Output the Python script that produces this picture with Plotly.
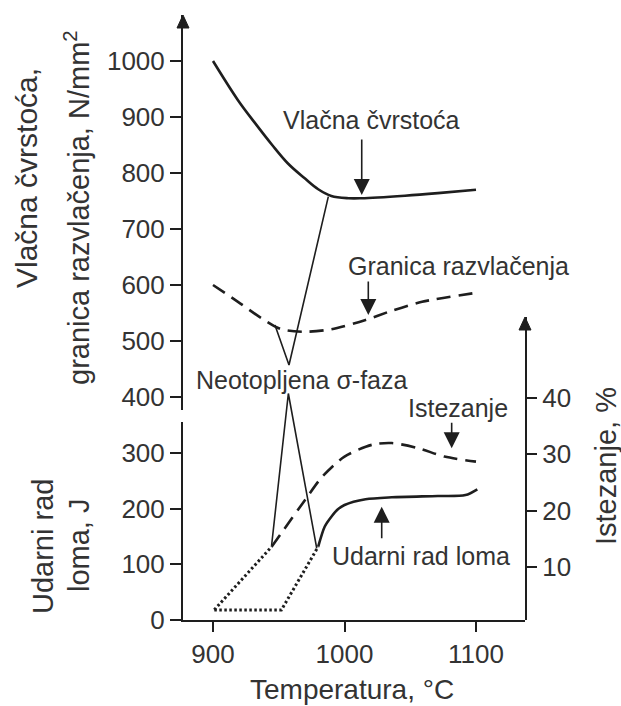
import plotly.graph_objects as go

# ---------------- data ----------------
# Vlačna čvrstoća (N/mm²)
vc_x = [900, 919, 932, 945, 957, 970, 980, 990, 1003, 1013, 1046, 1071, 1100]
vc_y = [1000, 930, 889, 850, 817, 790, 771, 759, 755, 755, 759.5, 764, 770]

# Granica razvlačenja (N/mm²)
gr_x = [900, 919, 937, 952, 970, 990, 1016, 1036, 1059, 1100]
gr_y = [600, 570, 540.5, 521, 516.5, 521, 537.5, 554, 570, 586]

# Istezanje (%)
ist_dot_x = [901, 944.6]
ist_dot_y = [2.4, 13.6]
ist_x = [944.6, 970, 983, 1000, 1021, 1036, 1056, 1076, 1100]
ist_y = [13.6, 21.9, 26.0, 29.6, 31.7, 32.0, 31.1, 29.6, 28.7]

# Udarni rad loma (J)
ur_dot_x = [901, 952, 980]
ur_dot_y = [18, 18, 131.7]
ur_x = [980, 985, 990, 995, 1000, 1016, 1036, 1071, 1092, 1101]
ur_y = [131.7, 168, 185.6, 199, 206.6, 216.8, 220.4, 222.7, 224.5, 234.8]

# Neotopljena σ-faza pointer lines
sig_top_x = [947.1, 957.8, 987.7]
sig_top_y = [528.6, 457.1, 757.7]      # N/mm²
sig_bot_x = [944.6, 957.3, 978.9]
sig_bot_y = [13.9, 40.8, 13.3]         # %

x_ticks = [900, 1000, 1100]
top_ticks = [400, 500, 600, 700, 800, 900, 1000]
bot_ticks = [0, 100, 200, 300]
right_ticks = [10, 20, 30, 40]

# ---------------- styling ----------------
LINE = "#1e1e1e"
TXT = "#333333"
FONT = "Liberation Sans, Arial, sans-serif"
W, H = 621, 706
L, R, T, B = 183, 96, 15, 86
PW, PH = W - L - R, H - T - B


def P(px, py):
    return (px - L) / PW, (H - B - py) / PH


fig = go.Figure()

fig.add_trace(go.Scatter(x=vc_x, y=vc_y, xaxis="x", yaxis="y2", mode="lines",
                         line=dict(color=LINE, width=2.6, shape="spline", smoothing=1.0)))
fig.add_trace(go.Scatter(x=gr_x, y=gr_y, xaxis="x", yaxis="y2", mode="lines",
                         line=dict(color=LINE, width=2.6, dash="14px,8px", shape="spline", smoothing=0.8)))
fig.add_trace(go.Scatter(x=sig_top_x, y=sig_top_y, xaxis="x", yaxis="y2", mode="lines",
                         line=dict(color=LINE, width=1.6)))

fig.add_trace(go.Scatter(x=ist_dot_x, y=ist_dot_y, xaxis="x", yaxis="y3", mode="lines",
                         line=dict(color=LINE, width=3, dash="2.5px,2.5px")))
fig.add_trace(go.Scatter(x=ist_x, y=ist_y, xaxis="x", yaxis="y3", mode="lines",
                         line=dict(color=LINE, width=2.6, dash="14px,8px", shape="spline", smoothing=0.8)))
fig.add_trace(go.Scatter(x=sig_bot_x, y=sig_bot_y, xaxis="x", yaxis="y3", mode="lines",
                         line=dict(color=LINE, width=1.6)))

fig.add_trace(go.Scatter(x=ur_dot_x, y=ur_dot_y, xaxis="x", yaxis="y", mode="lines",
                         line=dict(color=LINE, width=3, dash="2.5px,2.5px")))
fig.add_trace(go.Scatter(x=ur_x, y=ur_y, xaxis="x", yaxis="y", mode="lines",
                         line=dict(color=LINE, width=2.6, shape="spline", smoothing=0.8)))

tickfont = dict(family=FONT, size=26, color=TXT)
axis_common = dict(showline=True, linecolor=LINE, linewidth=2, ticks="outside",
                   tickcolor=LINE, tickwidth=2, showgrid=False, zeroline=False,
                   tickfont=tickfont)

fig.update_layout(
    width=W, height=H,
    margin=dict(l=L, r=R, t=T, b=B),
    paper_bgcolor="white", plot_bgcolor="rgba(0,0,0,0)",
    showlegend=False,
    xaxis=dict(domain=[0, 1], range=[877.19, 1137.26], tickvals=x_ticks, ticklen=10,
               anchor="y", **axis_common),
    yaxis=dict(domain=[0, 198 / PH], range=[0, 198 / 0.5567], tickvals=bot_ticks,
               ticklen=11, anchor="x", **axis_common),
    yaxis2=dict(domain=[210 / PH, 1], range=[400 - 13 / 0.56, 1000 + 46 / 0.56],
                tickvals=top_ticks, ticklen=11, anchor="x", **axis_common),
    yaxis3=dict(domain=[0, 303 / PH], range=[0.59, 0.59 + 303 / 5.633],
                tickvals=right_ticks, ticklen=10, anchor="x", side="right", **axis_common),
)

ann = []


def text_ann(txt, px, py, size=25, angle=0):
    x, y = P(px, py)
    ann.append(dict(text=txt, x=x, y=y, xref="paper", yref="paper", showarrow=False,
                    xanchor="center", yanchor="middle", textangle=angle,
                    font=dict(family=FONT, size=size, color=TXT)))


# curve labels
text_ann("Vlačna čvrstoća", 371, 120)
text_ann("Granica razvlačenja", 458, 266)
text_ann("Neotopljena σ-faza", 301, 380)
text_ann("Istezanje", 458, 408)
text_ann("Udarni rad loma", 421, 556)

# axis titles
text_ann("Temperatura, °C", 352, 689, size=28)
text_ann("Vlačna čvrstoća,", 27, 178, size=30, angle=-90)
text_ann("granica razvlačenja, N/mm<sup>2</sup>", 77, 208, size=29, angle=-90)
text_ann("Udarni rad", 43, 547, size=29, angle=-90)
text_ann("loma, J", 79, 546, size=29, angle=-90)
text_ann("Istezanje, %", 606, 466, size=29, angle=-90)


def arrow_ann(x, y, yref, ay):
    ann.append(dict(text="", x=x, y=y, xref="x", yref=yref, showarrow=True,
                    ax=0, ay=ay, arrowhead=2, arrowsize=2.0, arrowwidth=1.6,
                    arrowcolor=LINE, font=dict(size=1)))


arrow_ann(1013.1, 760.7, "y2", -57)
arrow_ann(1018.1, 546.4, "y2", -35)
arrow_ann(1081.5, 31.07, "y3", -27)
arrow_ann(1028.3, 203.5, "y", 33)

fig.update_layout(annotations=ann)


# axis-end arrowheads
def tri(px, py):
    x0, y0 = P(px, py)
    x1, y1 = P(px - 6, py + 13)
    x2, y2 = P(px + 6, py + 13)
    return f"M {x0} {y0} L {x1} {y1} L {x2} {y2} Z"


shapes = [
    dict(type="path", path=tri(183, 15), xref="paper", yref="paper",
         fillcolor=LINE, line=dict(color=LINE, width=1)),
    dict(type="path", path=tri(525, 317), xref="paper", yref="paper",
         fillcolor=LINE, line=dict(color=LINE, width=1)),
]
fig.update_layout(shapes=shapes)

fig.write_html("out.html", config={"displayModeBar": False},
               post_script="document.body.style.margin='0';document.body.style.padding='0';")
